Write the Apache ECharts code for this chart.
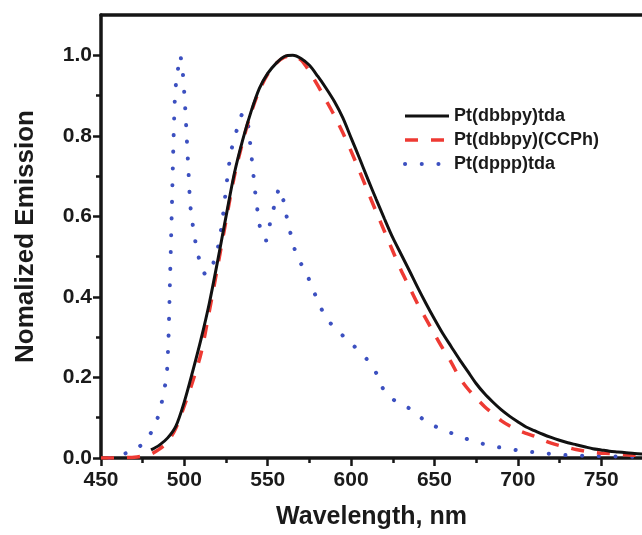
<!DOCTYPE html>
<html>
<head>
<meta charset="utf-8">
<script src="https://cdn.jsdelivr.net/npm/echarts@6/dist/echarts.min.js"></script>
<style>
  html, body { margin: 0; padding: 0; background: #fff; }
  #chart { width: 642px; height: 535px; }
</style>
</head>
<body>
<div id="chart"></div>
<script>
// Pt(dbbpy)tda - solid black
const blackWl = [480, 485, 490, 495, 500, 505, 510, 515, 520, 525, 530, 535, 540, 545, 550, 555, 560, 565,
  570, 575, 580, 585, 590, 595, 600, 605, 610, 615, 620, 625, 630, 635, 640, 645, 650, 655, 660, 665,
  670, 675, 680, 685, 690, 695, 700, 705, 710, 715, 720, 725, 730, 735, 740, 745, 750, 755, 760, 765, 770, 775];
const blackEm = [0.02, 0.032, 0.05, 0.08, 0.14, 0.215, 0.295, 0.385, 0.49, 0.6, 0.707, 0.79, 0.86, 0.918, 0.955, 0.98, 0.997, 1.0,
  0.992, 0.975, 0.948, 0.918, 0.885, 0.845, 0.795, 0.745, 0.693, 0.643, 0.594, 0.547, 0.506, 0.465, 0.423, 0.383, 0.345, 0.309, 0.277, 0.245,
  0.215, 0.185, 0.16, 0.139, 0.12, 0.104, 0.09, 0.077, 0.068, 0.059, 0.051, 0.044, 0.038, 0.033, 0.028, 0.023, 0.02, 0.017, 0.015, 0.013, 0.011, 0.01];

// Pt(dbbpy)(CCPh) - red dashed
const redWl = [450, 455, 460, 465, 470, 475, 480, 485, 490, 495, 500, 505, 510, 515, 520, 525, 530, 535, 540, 545, 550, 555, 560, 565,
  570, 575, 580, 585, 590, 595, 600, 605, 610, 615, 620, 625, 630, 635, 640, 645, 650, 655, 660, 665,
  670, 675, 680, 685, 690, 695, 700, 705, 710, 715, 720, 725, 730, 735, 740, 745, 750, 755, 760, 765, 770, 775];
const redEm = [0, 0, 0, 0.001, 0.002, 0.005, 0.01, 0.022, 0.04, 0.075, 0.13, 0.19, 0.26, 0.365, 0.476, 0.59, 0.7, 0.785, 0.857, 0.913, 0.953, 0.98, 0.995, 1.0,
  0.988, 0.96, 0.925, 0.888, 0.85, 0.808, 0.762, 0.713, 0.662, 0.612, 0.563, 0.514, 0.466, 0.424, 0.382, 0.345, 0.308, 0.272, 0.238, 0.2,
  0.172, 0.149, 0.128, 0.11, 0.093, 0.08, 0.069, 0.061, 0.054, 0.045, 0.037, 0.031, 0.026, 0.021, 0.017, 0.014, 0.012, 0.011, 0.009, 0.008, 0.007, 0.007];

// Pt(dppp)tda - blue dotted
const blueWl = [455, 460, 465, 470, 475, 478, 481, 484, 486, 488, 489.5, 490.5, 491.5, 492.5, 493.5, 494.5, 496, 497.5, 499, 500.5,
  501.5, 502.5, 503.5, 505, 506.5, 508.5, 511, 513, 516, 519.5, 522.5, 524.5, 526.5, 528.5, 531.5, 535, 537, 538.5, 539.5, 541.5,
  542.5, 544, 545.5, 547.5, 549, 551.5, 554, 557, 560, 562, 564.5, 567.5, 572.5, 576.5, 580.5, 585.5, 593.5, 601.5, 609.5, 615.5,
  619.5, 627.5, 636.5, 645.5, 655.5, 665.5, 675.5, 685.5, 695.5, 705.5, 715.5, 725.5, 735.5, 745.5, 755, 765, 775];
const blueEm = [0, 0.006, 0.012, 0.02, 0.035, 0.05, 0.07, 0.1, 0.13, 0.17, 0.21, 0.3, 0.46, 0.62, 0.79, 0.91, 0.96, 1.0, 0.96, 0.87,
  0.79, 0.71, 0.63, 0.58, 0.54, 0.5, 0.465, 0.455, 0.47, 0.51, 0.58, 0.65, 0.72, 0.77, 0.815, 0.855, 0.85, 0.82, 0.78, 0.7,
  0.66, 0.61, 0.57, 0.545, 0.54, 0.585, 0.627, 0.67, 0.63, 0.585, 0.545, 0.5, 0.465, 0.426, 0.385, 0.345, 0.31, 0.279, 0.245, 0.208,
  0.17, 0.138, 0.12, 0.088, 0.07, 0.053, 0.039, 0.029, 0.022, 0.016, 0.012, 0.008, 0.006, 0.005, 0.004, 0.003, 0.003];

// 刻度
const xMajorTicks = [450, 500, 550, 600, 650, 700, 750];
const xMinorTicks = [475, 525, 575, 625, 675, 725];
const yMajorTicks = [0, 0.2, 0.4, 0.6, 0.8, 1.0];
const yMinorTicks = [0.1, 0.3, 0.5, 0.7, 0.9];

const zip = (xs, ys) => xs.map((x, i) => [x, ys[i]]);

const axisColor = "#161616";
const fontFamily = "'Liberation Sans', Arial, sans-serif";
const xMin = 450;
const xMax = 774.5;

const myChart = echarts.init(document.getElementById("chart"));

const option = {
  backgroundColor: "#fff",
  animation: false,
  textStyle: { fontFamily: fontFamily },
  grid: {
    left: 101,
    right: 0,
    top: 15,
    bottom: 76,
  },
  legend: {
    orient: "vertical",
    left: 403,
    top: 107,
    padding: 0,
    itemWidth: 44,
    itemHeight: 14,
    itemGap: 6,
    itemStyle: { opacity: 0 },
    lineStyle: { width: "inherit" },
    textStyle: { fontSize: 18, fontWeight: "bold", color: "#1a1a1a", lineHeight: 18, fontFamily: fontFamily },
    data: ["Pt(dbbpy)tda", "Pt(dbbpy)(CCPh)", "Pt(dppp)tda"],
  },
  xAxis: [
    {
      type: "value",
      min: xMin,
      max: xMax,
      position: "bottom",
      name: "Wavelength, nm",
      nameLocation: "middle",
      nameGap: 47,
      nameTextStyle: { fontSize: 25, fontWeight: "bold", color: "#1a1a1a", fontFamily: fontFamily },
      axisLine: { lineStyle: { color: axisColor, width: 3.5 } },
      axisTick: { customValues: xMajorTicks, length: 8, lineStyle: { color: axisColor, width: 2.5 } },
      axisLabel: { customValues: xMajorTicks, fontSize: 21, fontWeight: "bold", color: "#1a1a1a", margin: 12 },
      splitLine: { show: false },
    },
    {
      type: "value",
      min: xMin,
      max: xMax,
      position: "bottom",
      axisLine: { show: false },
      axisTick: { customValues: xMinorTicks, length: 5, lineStyle: { color: axisColor, width: 2.5 } },
      axisLabel: { show: false },
      splitLine: { show: false },
    },
    {
      // 顶部边框
      type: "value",
      min: xMin,
      max: xMax,
      position: "top",
      axisLine: { show: true, lineStyle: { color: axisColor, width: 3.5 } },
      axisTick: { show: false },
      axisLabel: { show: false },
      splitLine: { show: false },
    },
  ],
  yAxis: [
    {
      type: "value",
      min: 0,
      max: 1.1,
      position: "left",
      name: "Nomalized Emission",
      nameLocation: "middle",
      nameGap: 62,
      nameTextStyle: { fontSize: 26, fontWeight: "bold", color: "#1a1a1a", fontFamily: fontFamily },
      axisLine: { show: true, lineStyle: { color: axisColor, width: 3.5 } },
      axisTick: { show: true, customValues: yMajorTicks, length: 8, lineStyle: { color: axisColor, width: 2.5 } },
      axisLabel: {
        customValues: yMajorTicks,
        fontSize: 21,
        fontWeight: "bold",
        color: "#1a1a1a",
        margin: 9,
        formatter: (v) => v.toFixed(1),
      },
      splitLine: { show: false },
    },
    {
      type: "value",
      min: 0,
      max: 1.1,
      position: "left",
      axisLine: { show: false },
      axisTick: { show: true, customValues: yMinorTicks, length: 5, lineStyle: { color: axisColor, width: 2.5 } },
      axisLabel: { show: false },
      splitLine: { show: false },
    },
  ],
  series: [
    {
      name: "Pt(dbbpy)tda",
      type: "line",
      symbol: "none",
      smooth: 0.3,
      lineStyle: { color: "#111", width: 3 },
      itemStyle: { color: "#111" },
      data: zip(blackWl, blackEm),
      z: 3,
    },
    {
      name: "Pt(dbbpy)(CCPh)",
      type: "line",
      symbol: "none",
      smooth: 0.3,
      lineStyle: { color: "#ee3a33", width: 3.5, type: [13, 13] },
      itemStyle: { color: "#ee3a33" },
      data: zip(redWl, redEm),
      z: 2,
    },
    {
      name: "Pt(dppp)tda",
      type: "line",
      symbol: "none",
      smooth: 0.2,
      lineStyle: { color: "#3c50c0", width: 4, type: [0.1, 16.6], cap: "round" },
      itemStyle: { color: "#3c50c0" },
      data: zip(blueWl, blueEm),
      z: 1,
    },
  ],
};

option && myChart.setOption(option);
</script>
</body>
</html>
